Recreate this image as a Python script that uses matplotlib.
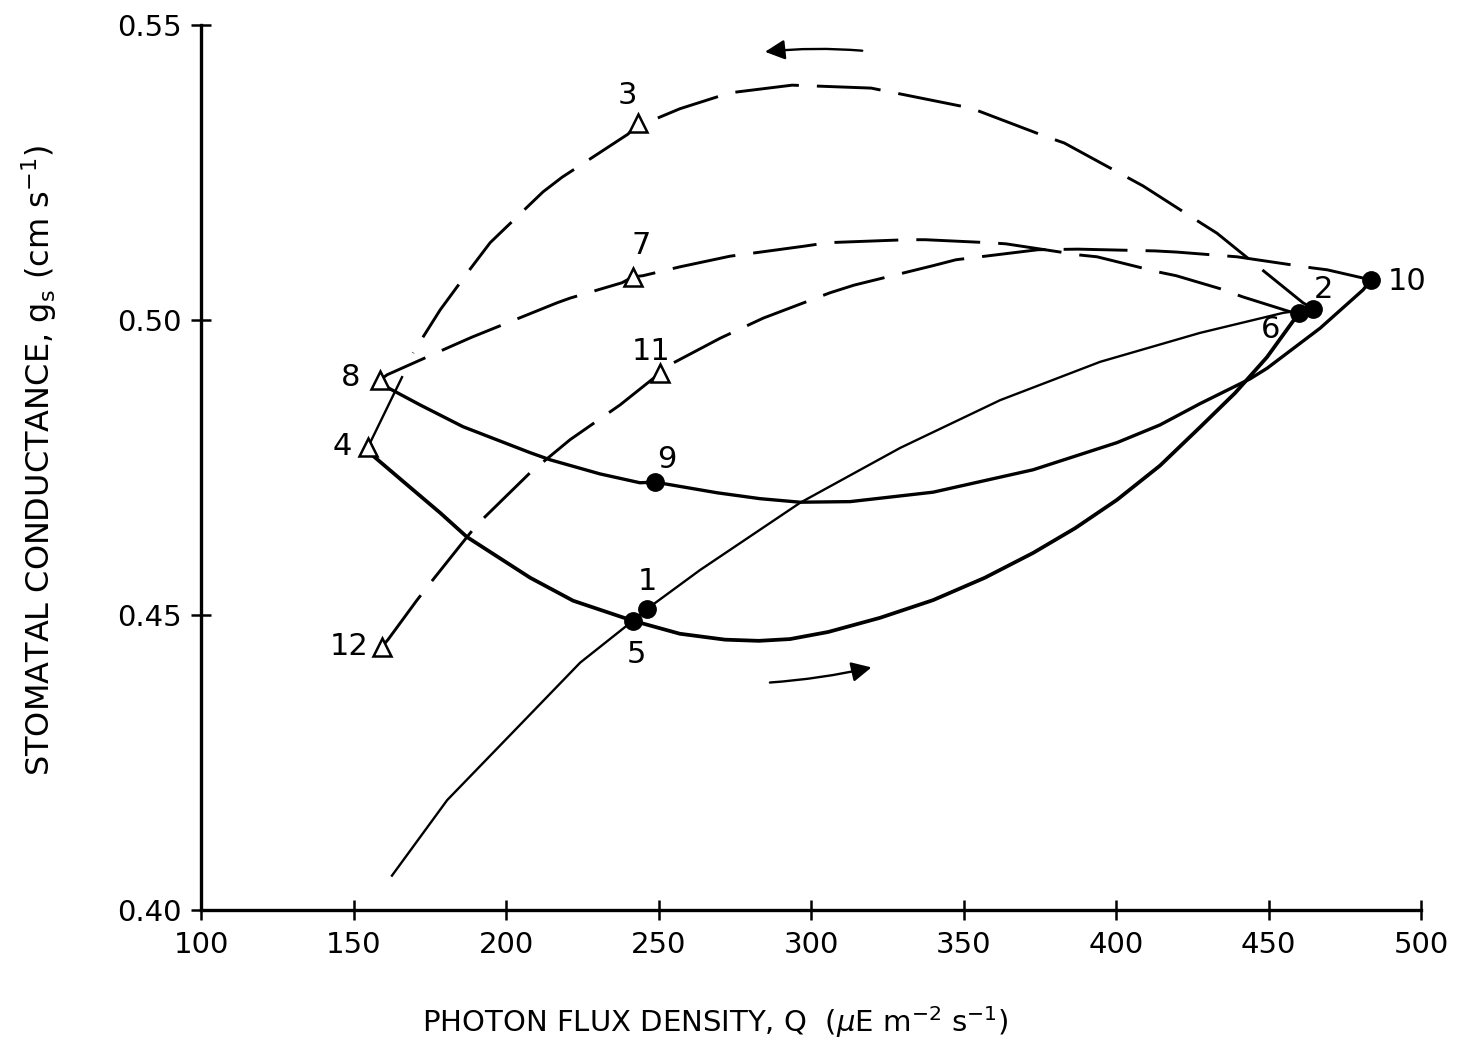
import matplotlib
matplotlib.use('Agg')
import matplotlib.pyplot as plt

plt.rcParams['font.family'] = ['DejaVu Sans']
plt.rcParams['lines.scale_dashes'] = False

# --- curve segments (Q in uE m-2 s-1, gs in cm s-1) ---
# 1 -> 2 (solid, incl. lead-in from lower left)
seg12_q = [162.6, 180.7, 205.6, 224.3, 241.6, 246.2, 263.6, 296.4, 329.2, 362.0, 394.8, 427.5, 454.8, 464.6]
seg12_g = [0.4058, 0.4186, 0.4319, 0.4419, 0.4490, 0.4510, 0.4576, 0.4690, 0.4783, 0.4864, 0.4929, 0.4978, 0.5012, 0.5019]

# 2 -> 3 -> 4 (dashed, last bit solid)
seg23_q = [464.6, 461.3, 433.1, 428.2, 408.9, 383.0, 377.4, 352.5, 319.7, 293.8, 273.4, 257.0, 248.2, 243.3,
           240.0, 218.4, 212.1, 194.8, 188.2, 178.4, 169.5]
seg23_g = [0.5019, 0.5029, 0.5147, 0.5163, 0.5227, 0.5300, 0.5310, 0.5359, 0.5393, 0.5398, 0.5385, 0.5358, 0.5339, 0.5334,
           0.5315, 0.5242, 0.5217, 0.5131, 0.5086, 0.5017, 0.4944]
seg34_q = [165.9, 154.8]
seg34_g = [0.4903, 0.4785]

# 4 -> 5 -> 6 (heavy solid)
seg46_q = [154.8, 156.1, 169.5, 178.4, 187.2, 207.9, 222.0, 241.6, 257.0, 271.8, 282.9, 293.1, 305.6, 322.6,
           340.0, 357.0, 372.8, 386.6, 400.3, 414.4, 427.5, 439.0, 449.5, 460.0]
seg46_g = [0.4785, 0.4771, 0.4712, 0.4673, 0.4632, 0.4563, 0.4524, 0.4490, 0.4468, 0.4458, 0.4456, 0.4459, 0.4471, 0.4495,
           0.4525, 0.4563, 0.4605, 0.4647, 0.4695, 0.4753, 0.4818, 0.4876, 0.4937, 0.5012]

# 6 -> 7 -> 8 (dashed)
seg68_q = [460.0, 457.0, 441.6, 434.1, 419.7, 414.1, 393.8, 388.2, 363.9, 358.0, 337.4, 331.5, 305.6, 297.7,
           273.4, 257.0, 244.9, 241.6, 238.0, 221.0, 216.7, 188.9, 182.3, 161.0, 158.7]
seg68_g = [0.5012, 0.5014, 0.5039, 0.5053, 0.5075, 0.5081, 0.5107, 0.5110, 0.5129, 0.5131, 0.5136, 0.5136, 0.5131, 0.5125,
           0.5108, 0.5090, 0.5075, 0.5073, 0.5063, 0.5037, 0.5029, 0.4971, 0.4956, 0.4907, 0.4898]

# 8 -> 9 -> 10 (heavy solid)
seg810_q = [158.7, 161.3, 171.8, 185.9, 207.9, 214.4, 230.8, 243.9, 248.9, 269.2, 283.3, 296.4, 312.8, 340.0,
            372.8, 400.3, 414.4, 427.5, 443.9, 449.5, 466.9, 481.0, 483.6]
seg810_g = [0.4898, 0.4885, 0.4856, 0.4819, 0.4775, 0.4763, 0.4739, 0.4724, 0.4725, 0.4707, 0.4697, 0.4691, 0.4692, 0.4708,
            0.4746, 0.4792, 0.4822, 0.4858, 0.4900, 0.4918, 0.4986, 0.5051, 0.5068]

# 10 -> 11 -> 12 (dashed)
seg1012_q = [483.6, 481.0, 469.2, 464.6, 446.2, 439.7, 420.0, 412.8, 387.5, 374.4, 347.5, 340.0, 314.1, 306.2,
             284.3, 270.2, 254.8, 250.5, 237.4, 221.0, 207.9, 190.5, 187.2, 174.1, 170.8, 161.3, 159.3]
seg1012_g = [0.5068, 0.5071, 0.5085, 0.5088, 0.5102, 0.5107, 0.5115, 0.5117, 0.5120, 0.5119, 0.5102, 0.5092, 0.5059, 0.5046,
             0.5003, 0.4969, 0.4927, 0.4910, 0.4856, 0.4797, 0.4741, 0.4653, 0.4632, 0.4547, 0.4525, 0.4458, 0.4446]

# numbered measurement points
pt_labels = ['1', '2', '3', '4', '5', '6', '7', '8', '9', '10', '11', '12']
pt_q = [246.2, 464.6, 243.3, 154.8, 241.6, 460.0, 241.6, 158.7, 248.9, 483.6, 250.5, 159.3]
pt_g = [0.4510, 0.5019, 0.5334, 0.4785, 0.4490, 0.5012, 0.5073, 0.4898, 0.4725, 0.5068, 0.4910, 0.4446]
pt_filled = [True, True, False, False, True, True, False, False, True, True, False, False]
lab_q = [246.2, 467.9, 239.7, 146.2, 242.6, 450.8, 244.2, 148.9, 252.8, 495.4, 247.4, 148.5]
lab_g = [0.4556, 0.5051, 0.5381, 0.4786, 0.4432, 0.4983, 0.5127, 0.4902, 0.4763, 0.5066, 0.4946, 0.4447]

fig = plt.figure(figsize=(14.62, 10.41), dpi=100)
ax = fig.add_axes([0.1375, 0.126, 0.8345, 0.850])

dash = (0, (46, 13))
ax.plot(seg12_q, seg12_g, color='black', lw=1.7)
ax.plot(seg23_q, seg23_g, color='black', lw=2.1, linestyle=dash)
ax.plot(seg34_q, seg34_g, color='black', lw=1.7)
ax.plot(seg46_q, seg46_g, color='black', lw=2.7)
ax.plot(seg68_q, seg68_g, color='black', lw=2.1, linestyle=dash)
ax.plot(seg810_q, seg810_g, color='black', lw=2.4)
ax.plot(seg1012_q, seg1012_g, color='black', lw=2.1, linestyle=dash)

for q, g, filled in zip(pt_q, pt_g, pt_filled):
    if filled:
        ax.plot(q, g, 'o', color='black', markersize=12.5, zorder=5)
    else:
        ax.plot(q, g, '^', markerfacecolor='white', markeredgecolor='black',
                markersize=13, markeredgewidth=1.8, zorder=5)

for txt, q, g in zip(pt_labels, lab_q, lab_g):
    ax.text(q, g, txt, ha='center', va='center', fontsize=22)

# direction arrows
ax.annotate('', xy=(284.0, 0.5454), xytext=(317.7, 0.5456),
            arrowprops=dict(arrowstyle='-|>', color='black', lw=1.7,
                            mutation_scale=30, connectionstyle='arc3,rad=0.05'))
ax.annotate('', xy=(320.7, 0.4412), xytext=(285.6, 0.4385),
            arrowprops=dict(arrowstyle='-|>', color='black', lw=1.7,
                            mutation_scale=30, connectionstyle='arc3,rad=0.04'))

ax.set_xlim(100, 500)
ax.set_ylim(0.40, 0.55)
ax.set_xticks(range(100, 501, 50))
ax.set_yticks([0.40, 0.45, 0.50, 0.55])
ax.set_yticklabels(['0.40', '0.45', '0.50', '0.55'])
for s in ['top', 'right']:
    ax.spines[s].set_visible(False)
for s in ['left', 'bottom']:
    ax.spines[s].set_linewidth(2.4)
ax.tick_params(direction='inout', length=14, width=1.8, labelsize=21)
ax.tick_params(axis='x', pad=8)
ax.tick_params(axis='y', pad=7)

fig.text(0.027, 0.558, r'STOMATAL CONDUCTANCE, g$_\mathregular{s}$ (cm s$^\mathregular{-1}$)',
         rotation=90, ha='center', va='center', fontsize=23)
fig.text(0.489, 0.018, r'PHOTON FLUX DENSITY, Q  ($\mu$E m$^\mathregular{-2}$ s$^\mathregular{-1}$)',
         ha='center', va='center', fontsize=21)

fig.savefig('out.png', dpi=100, facecolor='white')
plt.close(fig)
